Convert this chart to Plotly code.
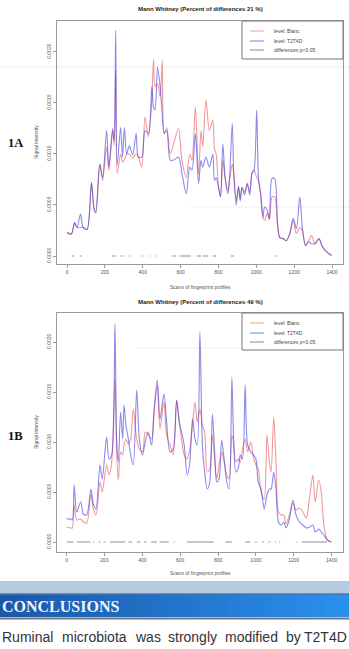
import plotly.graph_objects as go

# ---------------- DATA ----------------
# Chart 1A  (signal intensity in units of 1e-4)
scans_a = [0, 23, 40, 53, 71, 85, 106, 129, 142, 152, 173, 188, 209, 221, 241, 249, 257, 265, 283, 293,
           303, 315, 329, 347, 365, 377, 395, 412, 430, 448, 457, 465, 478, 492, 503, 513, 527, 545, 563, 589,
           607, 630, 648, 660, 678, 695, 708, 717, 734, 752, 770, 779, 788, 800, 811, 823, 835, 850, 858, 873,
           881, 894, 906, 915, 924, 938, 952, 965, 977, 988, 1002, 1012, 1023, 1035, 1044, 1058, 1069, 1083, 1097, 1112,
           1124, 1142, 1159, 1177, 1195, 1212, 1230, 1243, 1260, 1274, 1292, 1310, 1331, 1349, 1372, 1398]
t2t4d_a = [2.3, 2.2, 3.3, 2.8, 4.1, 2.8, 2.6, 7.2, 4.8, 4.3, 9.0, 7.7, 12.3, 8.7, 12.5, 11.3, 22.1, 8.9, 12.6, 9.7,
           12.6, 10.0, 10.8, 9.9, 12.0, 9.7, 9.7, 12.3, 12.0, 16.6, 14.6, 14.3, 18.5, 16.6, 13.9, 12.0, 12.3, 9.4, 9.4, 9.7,
           8.1, 6.1, 8.7, 8.4, 12.0, 7.1, 9.4, 8.7, 9.7, 8.7, 10.0, 7.4, 7.7, 6.8, 5.8, 11.0, 7.7, 6.1, 7.4, 13.0,
           8.1, 5.0, 6.8, 5.4, 6.7, 6.0, 7.1, 6.0, 8.1, 8.4, 14.3, 7.4, 6.1, 3.8, 4.8, 4.5, 3.6, 7.6, 7.6, 3.2,
           1.8, 1.7, 1.5, 2.2, 3.7, 2.7, 5.8, 2.8, 1.0, 1.4, 1.2, 1.2, 1.7, 0.9, 0.4, 0.05]
blanc_a = [2.3, 2.1, 3.2, 2.8, 2.8, 2.8, 2.6, 7.2, 4.6, 4.2, 9.0, 7.4, 10.7, 8.4, 12.3, 10.8, 18.2, 8.1, 10.0, 9.2,
           9.4, 10.0, 10.0, 9.6, 10.0, 9.7, 8.7, 13.6, 11.7, 15.3, 19.3, 16.6, 16.9, 15.6, 19.2, 12.0, 12.6, 10.0, 11.0, 12.5,
           9.4, 7.7, 10.0, 9.4, 14.6, 8.0, 12.3, 10.7, 15.3, 12.3, 13.3, 10.5, 10.0, 6.8, 5.8, 9.4, 7.7, 6.4, 7.4, 9.0,
           8.1, 5.4, 6.8, 5.6, 6.7, 6.3, 7.1, 6.3, 8.1, 8.4, 7.7, 7.4, 6.1, 3.8, 3.5, 4.2, 3.6, 5.8, 5.8, 3.2,
           1.8, 1.7, 1.5, 2.2, 3.5, 2.2, 2.8, 2.5, 1.0, 1.4, 2.0, 1.2, 1.7, 0.9, 0.4, 0.05]
diff_start_a = [25, 67, 238, 280, 298, 326, 396, 434, 471, 498, 556, 594, 686, 717, 770, 866, 1097]
diff_end_a = [38, 77, 256, 290, 306, 334, 402, 440, 477, 502, 576, 655, 708, 745, 788, 881, 1106]

# Chart 1B  (signal intensity in units of 1e-4)
scans_b = [0, 21, 30, 40, 53, 74, 88, 106, 128, 141, 155, 176, 188, 211, 224, 238, 255, 264, 273, 285,
           296, 303, 313, 326, 338, 352, 370, 384, 401, 415, 431, 449, 461, 479, 493, 514, 528, 546, 563, 581,
           595, 607, 621, 637, 651, 665, 678, 690, 704, 717, 729, 743, 756, 770, 782, 793, 805, 819, 832, 846,
           858, 873, 881, 894, 906, 917, 929, 943, 956, 973, 988, 1000, 1012, 1027, 1044, 1058, 1071, 1080, 1094, 1106,
           1119, 1133, 1147, 1159, 1177, 1195, 1212, 1230, 1248, 1266, 1283, 1301, 1313, 1331, 1345, 1359, 1377, 1398]
t2t4d_b = [2.3, 2.3, 2.2, 5.7, 3.0, 4.0, 2.8, 2.7, 5.3, 3.8, 3.3, 7.7, 6.3, 10.5, 8.3, 8.7, 21.8, 10.3, 8.0, 13.0,
           10.3, 13.7, 11.7, 10.3, 8.7, 7.7, 15.2, 10.3, 8.7, 10.0, 11.0, 9.7, 13.0, 16.2, 12.3, 14.8, 12.0, 9.0, 9.3, 14.2,
           12.0, 11.0, 9.7, 6.7, 8.0, 12.3, 10.3, 9.7, 21.0, 9.7, 7.0, 5.3, 6.0, 12.8, 9.0, 6.0, 6.3, 10.2, 8.3, 6.0,
           5.3, 16.5, 11.0, 7.0, 7.3, 8.7, 8.3, 15.7, 9.7, 9.0, 8.7, 8.3, 6.0, 5.3, 3.3, 4.7, 5.3, 5.3, 7.0, 5.3,
           2.0, 1.7, 2.0, 1.4, 2.3, 4.2, 2.7, 2.0, 1.7, 1.4, 1.5, 1.7, 1.0, 1.3, 1.0, 0.7, 0.2, 0.0]
blanc_b = [1.5, 1.4, 1.4, 3.7, 2.2, 2.3, 2.0, 1.9, 4.8, 3.3, 2.7, 6.0, 5.0, 7.7, 6.7, 8.0, 16.3, 9.0, 6.2, 9.0,
           8.7, 9.7, 10.3, 9.8, 10.3, 13.3, 10.3, 9.3, 9.0, 11.0, 10.7, 10.3, 12.7, 15.7, 11.3, 14.0, 10.7, 9.7, 8.7, 14.2,
           12.0, 10.3, 8.7, 8.3, 9.3, 11.7, 14.0, 12.0, 13.3, 11.7, 11.0, 7.0, 7.3, 10.7, 8.3, 6.3, 7.7, 9.0, 8.0, 6.7,
           6.3, 10.7, 10.0, 8.0, 8.3, 8.0, 9.3, 10.3, 9.0, 10.0, 8.3, 7.7, 7.3, 5.0, 4.3, 10.7, 8.0, 7.0, 12.5, 8.0,
           3.0, 2.7, 2.7, 1.8, 2.7, 3.9, 3.2, 3.4, 3.0, 2.4, 4.4, 6.7, 4.0, 6.2, 5.0, 1.7, 0.2, 0.0]
diff_start_b = [2, 54, 139, 169, 195, 230, 327, 371, 410, 447, 491, 566, 636, 838, 944, 995, 1032, 1067, 1099, 1122, 1214, 1243]
diff_end_b = [37, 125, 145, 178, 204, 310, 345, 389, 421, 477, 539, 572, 777, 873, 970, 1005, 1041, 1076, 1105, 1128, 1220, 1375]

titles = ["Mann Whitney (Percent of differences 21 %)", "Mann Whitney (Percent of differences 49 %)"]
legend_labels = ["level: Blanc", "level: T2T4D", "differences p<0.05"]
x_ticks = [0, 200, 400, 600, 800, 1000, 1200, 1400]
y_ticks = [0.0, 0.0005, 0.0010, 0.0015, 0.0020]
y_ticktext = ["0.0000", "0.0005", "0.0010", "0.0015", "0.0020"]
panel_labels = ["1A", "1B"]
conclusion_words = ["Ruminal", "microbiota", "was", "strongly", "modified", "by", "T2T4D"]
UNIT = 1e-4

# ---------------- STYLE ----------------
W, H = 349, 649
def PX(x): return x / W
def PY(y): return 1 - y / H

RED = "rgba(232,70,70,0.55)"
BLUE = "rgba(60,60,225,0.6)"
GRAY = "#9a9a9a"
FONT = "Liberation Sans, Arial, sans-serif"
SERIF = "Liberation Serif, Times New Roman, serif"

fig = go.Figure()

def diff_xy(starts, ends):
    xs, ys = [], []
    for s, e in zip(starts, ends):
        xs += [s, e, None]
        ys += [0, 0, None]
    return xs, ys

panels = [
    dict(scans=scans_a, blanc=blanc_a, t2=t2t4d_a, ds=diff_start_a, de=diff_end_a, xa="x", ya="y"),
    dict(scans=scans_b, blanc=blanc_b, t2=t2t4d_b, ds=diff_start_b, de=diff_end_b, xa="x2", ya="y2"),
]
for p in panels:
    dx, dy = diff_xy(p["ds"], p["de"])
    fig.add_trace(go.Scatter(x=dx, y=dy, mode="lines", line=dict(color="#a0a0a0", width=1.2),
                             xaxis=p["xa"], yaxis=p["ya"], showlegend=False, hoverinfo="skip"))
    fig.add_trace(go.Scatter(x=p["scans"], y=[v * UNIT for v in p["blanc"]], mode="lines",
                             line=dict(color=RED, width=1.1, shape="spline", smoothing=0.8),
                             xaxis=p["xa"], yaxis=p["ya"], showlegend=False))
    fig.add_trace(go.Scatter(x=p["scans"], y=[v * UNIT for v in p["t2"]], mode="lines",
                             line=dict(color=BLUE, width=1.1, shape="spline", smoothing=0.8),
                             xaxis=p["xa"], yaxis=p["ya"], showlegend=False))

xcommon = dict(tickvals=x_ticks, ticks="outside", ticklen=3, tickcolor=GRAY, showline=True, mirror=True,
               linecolor=GRAY, linewidth=1, showgrid=False, zeroline=False,
               tickfont=dict(family=FONT, size=5, color="#555"))
ycommon = dict(tickvals=y_ticks, ticktext=y_ticktext, tickangle=-90, ticks="outside", ticklen=3,
               tickcolor=GRAY, showline=True, mirror=True, linecolor=GRAY, linewidth=1, showgrid=False,
               zeroline=False, tickfont=dict(family=FONT, size=5, color="#555"))

fig.update_layout(
    width=W, height=H, margin=dict(l=0, r=0, t=0, b=0),
    paper_bgcolor="white", plot_bgcolor="white", showlegend=False,
    xaxis=dict(domain=[PX(57), PX(343)], range=[-53, 1458], anchor="y", **xcommon),
    yaxis=dict(domain=[PY(264), PY(21)], range=[-0.0000784, 0.002303], anchor="x", **ycommon),
    xaxis2=dict(domain=[PX(57), PX(343)], range=[-51, 1460], anchor="y2", **xcommon),
    yaxis2=dict(domain=[PY(552), PY(313)], range=[-0.0001, 0.00229], anchor="x2", **ycommon),
)

shapes = []
annots = []

# faint slide artefact lines
for (x0, x1, y) in [(0, 349, 67), (190, 349, 207), (137, 343, 348)]:
    shapes.append(dict(type="line", xref="paper", yref="paper", x0=PX(x0), x1=PX(x1), y0=PY(y), y1=PY(y),
                       line=dict(color="#eeeeee", width=1), layer="below"))

# titles, axis titles, panel labels, legends
geo = [dict(title_y=9, xlab_y=287, ylab_y=142, panel_y=143, leg_top=21, leg_bot=59, leg_rows=[31, 41, 50]),
       dict(title_y=302, xlab_y=573, ylab_y=432, panel_y=436, leg_top=313, leg_bot=350, leg_rows=[323, 333, 342])]
for i, g in enumerate(geo):
    annots.append(dict(text="<b>%s</b>" % titles[i], x=PX(200), y=PY(g["title_y"]), xref="paper", yref="paper",
                       showarrow=False, font=dict(family=FONT, size=6, color="#222"), xanchor="center", yanchor="middle"))
    annots.append(dict(text="Scans of fingerprint profiles", x=PX(200), y=PY(g["xlab_y"]), xref="paper", yref="paper",
                       showarrow=False, font=dict(family=FONT, size=5, color="#555"), xanchor="center", yanchor="middle"))
    annots.append(dict(text="Signal intensity", x=PX(36), y=PY(g["ylab_y"]), xref="paper", yref="paper",
                       textangle=-90, showarrow=False, font=dict(family=FONT, size=5, color="#555"),
                       xanchor="center", yanchor="middle"))
    annots.append(dict(text="<b>%s</b>" % panel_labels[i], x=PX(15.5), y=PY(g["panel_y"]), xref="paper", yref="paper",
                       showarrow=False, font=dict(family=SERIF, size=12.5, color="#111"), xanchor="center", yanchor="middle"))
    shapes.append(dict(type="rect", xref="paper", yref="paper", x0=PX(242), x1=PX(343), y0=PY(g["leg_bot"]),
                       y1=PY(g["leg_top"]), line=dict(color="#777", width=1), fillcolor="white"))
    for col, lab, ry in zip(["#f09a9a", "#7d7de0", "#8a8a8a"], legend_labels, g["leg_rows"]):
        shapes.append(dict(type="line", xref="paper", yref="paper", x0=PX(250), x1=PX(264), y0=PY(ry), y1=PY(ry),
                           line=dict(color=col, width=1)))
        annots.append(dict(text=lab, x=PX(272), y=PY(ry), xref="paper", yref="paper", showarrow=False,
                           font=dict(family=FONT, size=5, color="#444"), xanchor="left", yanchor="middle"))

# ---- conclusions banner ----
shapes.append(dict(type="rect", xref="paper", yref="paper", x0=0, x1=1, y0=PY(594), y1=PY(581),
                   line=dict(width=0), fillcolor="#b5cbe0"))
n = 40
c0 = (28, 88, 168)
c1 = (42, 144, 238)
for k in range(n):
    t = k / (n - 1)
    c = tuple(int(c0[j] + (c1[j] - c0[j]) * t) for j in range(3))
    shapes.append(dict(type="rect", xref="paper", yref="paper", x0=k / n, x1=(k + 1) / n + 0.002,
                       y0=PY(617), y1=PY(594), line=dict(width=0), fillcolor="rgb(%d,%d,%d)" % c))
shapes.append(dict(type="line", xref="paper", yref="paper", x0=0, x1=1, y0=PY(594), y1=PY(594),
                   line=dict(color="#4a78b0", width=1.5)))
shapes.append(dict(type="line", xref="paper", yref="paper", x0=0, x1=1, y0=PY(618.5), y1=PY(618.5),
                   line=dict(color="#6d737a", width=2)))
annots.append(dict(text="<b>CONCLUSIONS</b>", x=PX(0), y=PY(606), xref="paper", yref="paper", showarrow=False,
                   font=dict(family=SERIF, size=16, color="#eef4ff"), xanchor="left", yanchor="middle"))

# justified body line: left edges of words (pixels); last word right-aligned at the edge
word_left = [0, 60, 133, 166, 223, 284, None]
for wd, wx in zip(conclusion_words, word_left):
    if wx is None:
        annots.append(dict(text=wd, x=PX(348.5), y=PY(637), xref="paper", yref="paper", showarrow=False,
                           font=dict(family=FONT, size=14, color="#333"), xanchor="right", yanchor="middle"))
    else:
        annots.append(dict(text=wd, x=PX(wx), y=PY(637), xref="paper", yref="paper", showarrow=False,
                           font=dict(family=FONT, size=14, color="#333"), xanchor="left", yanchor="middle"))

fig.update_layout(shapes=shapes, annotations=annots)
fig.write_html("out.html")
